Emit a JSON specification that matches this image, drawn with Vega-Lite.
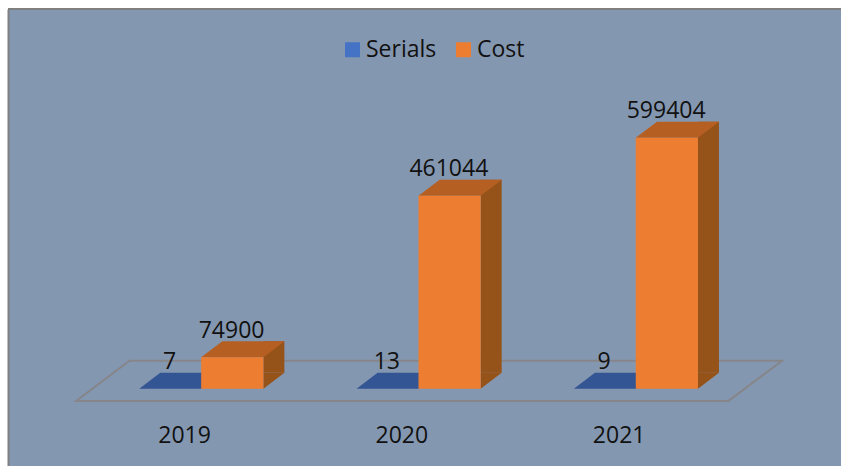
{
"$schema":"https://vega.github.io/schema/vega-lite/v6.json",
"width":833,"height":457,
"autosize":{"type":"none"},
"padding":{"left":8,"top":9,"right":0,"bottom":0},
"background":"#ffffff",
"config":{"view":{"fill":"#8497B0","stroke":null},"font":"Open Sans"},
"data":{"values":[
{"year":"2019","series":"Serials","value":7},
{"year":"2019","series":"Cost","value":74900},
{"year":"2020","series":"Serials","value":13},
{"year":"2020","series":"Cost","value":461044},
{"year":"2021","series":"Serials","value":9},
{"year":"2021","series":"Cost","value":599404}
]},
"encoding":{
"x":{"field":"year","type":"nominal","scale":{"paddingInner":0,"paddingOuter":0.4167,"align":0.375},
 "axis":{"title":null,"domain":false,"ticks":false,"grid":false,"labelAngle":0,"labelFont":"Open Sans","labelFontSize":23,"labelColor":"#111111","labelBaseline":"alphabetic","labelPadding":-24}},
"y":{"field":"value","type":"quantitative","stack":null,"scale":{"domain":[-184600,906760],"nice":false,"zero":false},
 "axis":{"title":null,"labels":false,"ticks":false,"grid":false,"domain":true,"domainColor":"#7f7f7f","domainWidth":2}}
},
"layer":[
{"transform":[{"filter":"datum.year=='2020' && datum.series=='Cost'"}],
 "mark":{"type":"point","shape":"M-325.7,12.2L326.6,12.2L380.3,-28L-272.4,-28Z","size":4,"filled":false,"stroke":"#86868a","strokeWidth":2,"opacity":1},
 "encoding":{"y":{"datum":0}}},
{"transform":[{"filter":"datum.year=='2020' && datum.series=='Cost'"}],
 "mark":{"type":"rule","stroke":"#7f7f7f","strokeWidth":2},
 "encoding":{"x":{},"y":{"datum":906760}}},
{"transform":[{"filter":"datum.series=='Serials'"}],
 "mark":{"type":"point","shape":"M0,0L62,0L83,-16L21,-16Z","size":4,"filled":true,"fill":"#335593","strokeWidth":0,"opacity":1,"xOffset":-45.3}},
{"transform":[{"filter":"datum.series=='Cost'"}],
 "mark":{"type":"bar","width":21,"color":"#955219","xOffset":89.3,"yOffset":-16,"y2Offset":-16},
 "encoding":{"y2":{"datum":0}}},
{"transform":[{"filter":"datum.series=='Cost'"}],
 "mark":{"type":"point","shape":"M0,0L21,-16L0,-16Z","size":4,"filled":true,"fill":"#955219","strokeWidth":0,"opacity":1,"xOffset":78.8},
 "encoding":{"y":{"datum":0}}},
{"transform":[{"filter":"datum.series=='Cost'"}],
 "mark":{"type":"point","shape":"M0,0L62.2,0L83.4,-16L21.2,-16Z","size":4,"filled":true,"fill":"#B65F22","strokeWidth":0,"opacity":1,"xOffset":16.6}},
{"transform":[{"filter":"datum.series=='Cost'"}],
 "mark":{"type":"bar","width":62.2,"xOffset":47.7},
 "encoding":{"y2":{"datum":0},
  "color":{"field":"series","type":"nominal","scale":{"domain":["Serials","Cost"],"range":["#4472C4","#ED7D31"]},
   "legend":{"title":null,"orient":"none","legendX":333,"legendY":29,"direction":"horizontal","symbolType":"square","symbolSize":225,"symbolStrokeWidth":0,"symbolOpacity":1,"labelFont":"Open Sans","labelFontSize":23,"labelColor":"#111111","labelOffset":2,"columnPadding":15,"padding":0}}}},
{"transform":[{"filter":"datum.series=='Cost'"}],
 "mark":{"type":"text","font":"Open Sans","fontSize":23,"color":"#111111","align":"center","baseline":"alphabetic","xOffset":47,"dy":-19.5},
 "encoding":{"text":{"field":"value","type":"quantitative","format":"d"}}},
{"transform":[{"filter":"datum.series=='Serials'"}],
 "mark":{"type":"text","font":"Open Sans","fontSize":23,"color":"#111111","align":"center","baseline":"alphabetic","xOffset":-15,"dy":-19.5},
 "encoding":{"text":{"field":"value","type":"quantitative","format":"d"},"y":{"datum":0}}}
]
}
